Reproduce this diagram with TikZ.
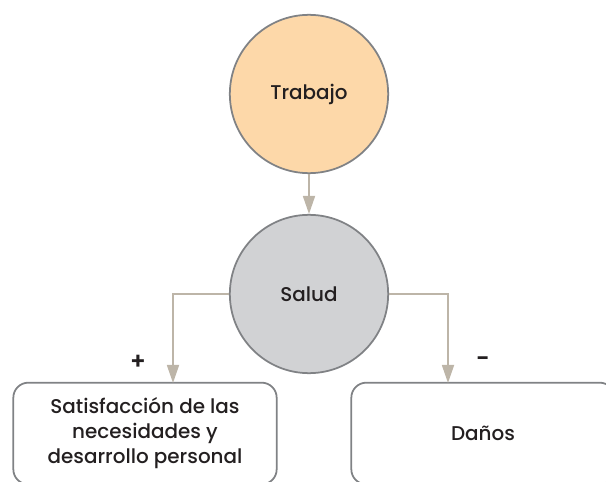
\documentclass[tikz,border=0pt]{standalone}
\usepackage{fontspec}
\setmainfont{Poppins}[UprightFont={* Medium},BoldFont={* SemiBold}]
\usetikzlibrary{arrows.meta}
\definecolor{peach}{HTML}{FDD8A9}
\definecolor{saludgray}{HTML}{D1D2D4}
\definecolor{rimgray}{HTML}{808285}
\definecolor{linkbeige}{HTML}{BDB5A8}
\definecolor{textdark}{HTML}{231F20}
\begin{document}
\begin{tikzpicture}[x=0.03cm,y=-0.03cm,
	font=\fontsize{17}{21.3}\selectfont,text=textdark,
	circ/.style={circle,draw=rimgray,line width=1.5pt,minimum size=4.75cm,inner sep=0pt},
	box/.style={draw=rimgray,line width=1.5pt,rounded corners=0.45cm,fill=white,
		minimum width=7.9cm,minimum height=3.05cm,align=center,inner sep=0pt},
	link/.style={draw=linkbeige,line width=1.5pt,-{Triangle[length=0.54cm,width=0.36cm]}}]
					% Frame
					\useasboundingbox (0,0) rectangle (606,482);
					\clip (0,0) rectangle (606,482);
					
					% Circles
					\node[circ,fill=peach] (trabajo) at (309,94) {Trabajo};
					\node[circ,fill=saludgray] (salud) at (309,294) {Salud};
					
					% Boxes
					\node[box] (satis) at (145,433.5) {Satisfacción de las\\necesidades y\\desarrollo personal};
					\node[box] (danos) at (483,433.5) {Daños};
					
					% Arrow ends on the boxes
					\coordinate (lend) at (173,383);
					\coordinate (rend) at (448,383);
					
					% Arrows
					\draw[link] (trabajo) -- (salud);
					\draw[link] (salud.west) -| (lend);
					\draw[link] (salud.east) -| (rend);
					
					% Signs
					\node[font=\fontsize{20}{22}\selectfont\bfseries] (plus) at (138,362) {+};
					\node[font=\fontsize{20}{22}\selectfont\bfseries] (minus) at (483,362) {-};
				\end{tikzpicture}
\end{document}
